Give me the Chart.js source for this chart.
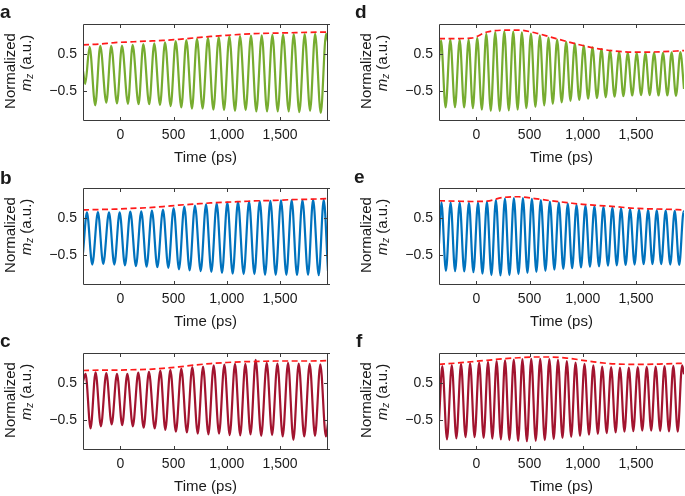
<!DOCTYPE html>
<html>
<head>
<meta charset="utf-8">
<script src="https://cdn.jsdelivr.net/npm/chart.js@4.4.0/dist/chart.umd.min.js"></script>
<style>
  body { margin: 0; width: 685px; height: 496px; background: #fff; position: relative; overflow: hidden;
         font-family: "Liberation Sans", Arial, sans-serif; color: #1a1a1a; }
  canvas { position: absolute; }
  .tag { position: absolute; font-weight: bold; font-size: 19px; line-height: 19px; }
  .ylab { position: absolute; font-size: 15px; white-space: nowrap; line-height: 16px;
          transform: translate(-50%, -50%) rotate(-90deg); }
  .ylab sub { font-size: 10px; vertical-align: -2px; font-style: italic; }
</style>
</head>
<body>
<script>
// axes
const xTicks = [0, 500, 1000, 1500];
const xTickLabels = ['0', '500', '1,000', '1,500'];
const yTicks = [-0.5, 0.5];
const yTickLabels = ['\u22120.5', '0.5'];

// envelope sample times (ps), shared by all panels
const envT = [-350, -200, -50, 100, 250, 400, 550, 700, 850, 1000, 1150, 1300, 1450, 1600, 1750, 1950];
const envA = [0.76, 0.78, 0.82, 0.84, 0.86, 0.88, 0.91, 0.95, 0.99, 1.02, 1.05, 1.07, 1.08, 1.09, 1.10, 1.11];
const envB = [0.73, 0.74, 0.75, 0.77, 0.79, 0.82, 0.86, 0.89, 0.92, 0.94, 0.96, 0.98, 0.99, 1.01, 1.02, 1.04];
const envC = [0.85, 0.86, 0.86, 0.87, 0.88, 0.91, 0.95, 1.00, 1.04, 1.07, 1.09, 1.10, 1.11, 1.11, 1.11, 1.12];
const envD = [0.93, 0.93, 0.94, 1.11, 1.16, 1.16, 1.09, 0.97, 0.85, 0.74, 0.65, 0.59, 0.56, 0.56, 0.57, 0.60];
const envE = [0.98, 0.97, 0.96, 0.97, 1.07, 1.09, 1.04, 0.98, 0.93, 0.88, 0.85, 0.82, 0.78, 0.76, 0.75, 0.73];
const envF = [1.02, 1.05, 1.09, 1.13, 1.17, 1.20, 1.22, 1.22, 1.19, 1.13, 1.07, 1.03, 1.02, 1.02, 1.03, 1.05];

// m_z turning points [time ps, value]
const mzA = [[-350, 0.04], [-329, -0.31], [-288, 0.70], [-235, -0.90], [-188, 0.73], [-131, -0.83], [-85, 0.73],
  [-31, -0.85], [16, 0.74], [72, -0.86], [116, 0.76], [172, -0.87], [216, 0.78], [272, -0.87], [319, 0.80],
  [373, -0.89], [420, 0.83], [473, -0.92], [520, 0.86], [573, -0.96], [620, 0.89], [673, -0.99], [720, 0.92],
  [773, -0.99], [823, 0.95], [874, -1.02], [924, 0.97], [974, -1.03], [1024, 0.99], [1077, -1.05], [1124, 1.00],
  [1177, -1.03], [1227, 1.01], [1277, -1.07], [1328, 1.02], [1378, -1.07], [1428, 1.03], [1478, -1.07],
  [1528, 1.04], [1581, -1.07], [1628, 1.05], [1681, -1.09], [1731, 1.05], [1782, -1.05], [1829, 1.06],
  [1882, -1.11], [1932, 1.06], [1950, 0.85]];
const mzB = [[-350, -0.45], [-313, 0.66], [-263, -0.77], [-210, 0.67], [-160, -0.75], [-106, 0.66], [-56, -0.77],
  [-6, 0.66], [44, -0.79], [94, 0.68], [147, -0.81], [197, 0.69], [247, -0.83], [297, 0.71], [348, -0.84],
  [401, 0.74], [451, -0.86], [501, 0.78], [551, -0.90], [601, 0.82], [651, -0.93], [701, 0.85], [755, -0.95],
  [805, 0.88], [855, -0.97], [905, 0.91], [955, -1.00], [1005, 0.93], [1055, -1.02], [1105, 0.95], [1158, -1.03],
  [1209, 0.96], [1259, -1.03], [1309, 0.97], [1359, -1.05], [1409, 0.98], [1459, -1.05], [1509, 0.99],
  [1559, -1.05], [1609, 1.00], [1659, -1.06], [1710, 1.00], [1763, -1.05], [1810, 1.01], [1863, -1.06],
  [1910, 1.01], [1950, -0.95]];
const mzC = [[-350, 0.55], [-326, 0.76], [-279, -0.74], [-232, 0.80], [-182, -0.68], [-131, 0.78], [-81, -0.63],
  [-31, 0.76], [18, -0.65], [66, 0.76], [118, -0.68], [169, 0.79], [219, -0.72], [269, 0.81], [323, -0.74],
  [376, 0.85], [423, -0.78], [470, 0.87], [522, -0.83], [573, 0.90], [625, -0.85], [676, 0.94], [727, -0.88],
  [777, 0.96], [827, -0.90], [877, 0.99], [927, -0.88], [977, 1.01], [1027, -0.92], [1077, 1.03], [1126, -0.93],
  [1174, 1.03], [1223, -0.90], [1271, 1.14], [1323, -0.94], [1375, 1.06], [1425, -0.92], [1475, 1.04],
  [1525, -0.96], [1575, 1.06], [1625, -1.05], [1675, 1.04], [1727, -0.96], [1778, 1.03], [1828, -0.94],
  [1878, 1.02], [1930, -0.96], [1950, -0.60]];
const mzD = [[-350, 0.30], [-331, 0.88], [-288, -0.96], [-244, 0.90], [-200, -0.95], [-156, 0.90], [-114, -0.96],
  [-72, 0.90], [-32, -0.98], [9, 0.95], [52, -1.02], [94, 1.06], [136, -1.05], [178, 1.11], [220, -1.06],
  [263, 1.13], [305, -1.04], [347, 1.12], [388, -1.02], [428, 1.10], [470, -0.98], [513, 1.07], [555, -0.94],
  [597, 1.02], [638, -0.90], [678, 0.96], [718, -0.86], [759, 0.90], [802, -0.82], [844, 0.84], [884, -0.78],
  [925, 0.79], [967, -0.75], [1009, 0.74], [1050, -0.72], [1091, 0.69], [1133, -0.70], [1175, 0.64],
  [1215, -0.68], [1256, 0.60], [1298, -0.66], [1341, 0.56], [1381, -0.65], [1422, 0.54], [1464, -0.63],
  [1506, 0.53], [1547, -0.62], [1588, 0.53], [1628, -0.62], [1669, 0.54], [1711, -0.63], [1753, 0.54],
  [1794, -0.63], [1834, 0.55], [1875, -0.64], [1916, 0.56], [1950, -0.45]];
const mzE = [[-350, -0.20], [-328, 0.94], [-285, -0.94], [-241, 0.93], [-199, -0.95], [-156, 0.93], [-113, -0.96],
  [-69, 0.92], [-27, -0.98], [16, 0.93], [58, -1.02], [100, 0.95], [142, -1.06], [184, 1.00], [227, -1.07],
  [269, 1.04], [311, -1.06], [353, 1.05], [396, -1.03], [438, 1.05], [480, -1.00], [522, 1.03], [564, -0.97],
  [606, 1.00], [649, -0.94], [691, 0.96], [733, -0.91], [775, 0.93], [817, -0.89], [859, 0.90], [900, -0.87],
  [941, 0.87], [983, -0.85], [1025, 0.85], [1067, -0.83], [1109, 0.83], [1152, -0.82], [1194, 0.81],
  [1236, -0.80], [1278, 0.79], [1319, -0.79], [1359, 0.77], [1402, -0.78], [1444, 0.75], [1486, -0.77],
  [1528, 0.74], [1571, -0.76], [1613, 0.73], [1654, -0.76], [1694, 0.72], [1736, -0.76], [1778, 0.71],
  [1821, -0.77], [1863, 0.70], [1905, -0.78], [1947, 0.69], [1950, 0.68]];
const mzF = [[-350, -0.55], [-319, 0.97], [-275, -1.04], [-230, 1.00], [-187, -1.01], [-143, 1.03], [-101, -0.98],
  [-58, 1.05], [-16, -0.98], [27, 1.07], [69, -1.00], [110, 1.09], [151, -1.02], [191, 1.11], [231, -1.04],
  [270, 1.13], [311, -1.06], [352, 1.15], [393, -1.08], [433, 1.16], [475, -1.09], [516, 1.17], [558, -1.08],
  [600, 1.17], [643, -1.06], [686, 1.16], [727, -1.03], [767, 1.14], [809, -1.00], [850, 1.11], [891, -0.97],
  [932, 1.07], [974, -0.94], [1016, 1.03], [1058, -0.91], [1099, 0.99], [1141, -0.89], [1182, 0.96],
  [1224, -0.87], [1266, 0.94], [1308, -0.85], [1349, 0.93], [1391, -0.83], [1432, 0.93], [1474, -0.81],
  [1516, 0.94], [1558, -0.80], [1600, 0.95], [1642, -0.80], [1684, 0.96], [1726, -0.81], [1767, 0.97],
  [1809, -0.82], [1850, 0.98], [1891, -0.83], [1932, 0.99], [1950, 0.75]];

const green = '#77ac30';
const blue = '#0072bd';
const wine = '#a2142f';

const panels = [
  { tag: 'a', mz: mzA, env: envA, color: green, col: 0, row: 0 },
  { tag: 'b', mz: mzB, env: envB, color: blue, col: 0, row: 1 },
  { tag: 'c', mz: mzC, env: envC, color: wine, col: 0, row: 2 },
  { tag: 'd', mz: mzD, env: envD, color: green, col: 1, row: 0 },
  { tag: 'e', mz: mzE, env: envE, color: blue, col: 1, row: 1 },
  { tag: 'f', mz: mzF, env: envF, color: wine, col: 1, row: 2 },
];

const plotLeft = [83, 439];
const plotTop = [24, 188, 353];
const tagPos = { a: [0, 2], b: [0, 168], c: [0, 331], d: [355, 2], e: [354, 167], f: [356, 331] };

// box with inward ticks; right column is cut at the page edge so no right side there
const boxPlugin = {
  id: 'box',
  afterDatasetsDraw(chart, args, opts) {
    const { ctx, chartArea: a, scales: { x, y } } = chart;
    ctx.save();
    ctx.strokeStyle = '#3a3a3a';
    ctx.lineWidth = 1;
    ctx.beginPath();
    ctx.moveTo(a.right + 2, a.top + 0.5);
    ctx.lineTo(a.left + 0.5, a.top + 0.5);
    ctx.lineTo(a.left + 0.5, a.bottom - 0.5);
    ctx.lineTo(a.right + 2, a.bottom - 0.5);
    if (opts.right) {
      ctx.moveTo(a.right - 0.5, a.top);
      ctx.lineTo(a.right - 0.5, a.bottom);
    }
    x.ticks.forEach(t => {
      const px = Math.round(x.getPixelForValue(t.value)) + 0.5;
      ctx.moveTo(px, a.bottom); ctx.lineTo(px, a.bottom - 4);
      ctx.moveTo(px, a.top); ctx.lineTo(px, a.top + 4);
    });
    y.ticks.forEach(t => {
      const py = Math.round(y.getPixelForValue(t.value)) + 0.5;
      ctx.moveTo(a.left, py); ctx.lineTo(a.left + 4, py);
      if (opts.right) { ctx.moveTo(a.right, py); ctx.lineTo(a.right - 4, py); }
    });
    ctx.stroke();
    ctx.restore();
  }
};

function addDiv(cls, html, left, top) {
  const d = document.createElement('div');
  d.className = cls;
  d.innerHTML = html;
  d.style.left = left + 'px';
  d.style.top = top + 'px';
  document.body.appendChild(d);
}

const tickFont = { family: '"Liberation Sans", Arial, sans-serif', size: 14 };

panels.forEach(p => {
  const L = plotLeft[p.col], T = plotTop[p.row];
  const cv = document.createElement('canvas');
  cv.width = 340; cv.height = 167;
  cv.style.left = (L - 83) + 'px';
  cv.style.top = (T - 24) + 'px';
  document.body.appendChild(cv);

  addDiv('tag', p.tag, tagPos[p.tag][0], tagPos[p.tag][1]);
  addDiv('ylab', 'Normalized', L - 73, T + 47);
  addDiv('ylab', '<i>m</i><sub>z</sub> (a.u.)', L - 55, T + 39);

  new Chart(cv, {
    type: 'line',
    data: {
      datasets: [
        {
          data: envT.map((t, i) => ({ x: t, y: p.env[i] })),
          borderColor: '#ff1a1a', borderWidth: 1.7, borderDash: [6, 3.5],
          pointRadius: 0, cubicInterpolationMode: 'monotone', fill: false
        },
        {
          data: p.mz.map(d => ({ x: d[0], y: d[1] })),
          borderColor: p.color, borderWidth: 2.2,
          pointRadius: 0, cubicInterpolationMode: 'monotone', fill: false
        }
      ]
    },
    options: {
      responsive: false,
      animation: false,
      devicePixelRatio: 1,
      layout: { padding: { left: 0, top: 24, right: 12, bottom: 0 } },
      plugins: { legend: { display: false }, tooltip: { enabled: false }, box: { right: p.col === 0 } },
      scales: {
        x: {
          type: 'linear', min: -350, max: 1950,
          grid: { display: false, drawTicks: false, tickLength: 0 },
          border: { display: false },
          afterBuildTicks: s => { s.ticks = xTicks.map(v => ({ value: v })); },
          afterFit: s => { s.height = 46; },
          ticks: {
            font: tickFont, color: '#1a1a1a', padding: 6, maxRotation: 0,
            callback: v => xTickLabels[xTicks.indexOf(v)]
          },
          title: {
            display: true, text: 'Time (ps)', color: '#1a1a1a', padding: 0,
            font: { family: '"Liberation Sans", Arial, sans-serif', size: 15 }
          }
        },
        y: {
          min: -1.33, max: 1.33,
          grid: { display: false, drawTicks: false, tickLength: 0 },
          border: { display: false },
          afterBuildTicks: s => { s.ticks = yTicks.map(v => ({ value: v })); },
          afterFit: s => { s.width = 83; },
          ticks: {
            font: tickFont, color: '#1a1a1a', padding: 6,
            callback: v => yTickLabels[yTicks.indexOf(v)]
          }
        }
      }
    },
    plugins: [boxPlugin]
  });
});
</script>
</body>
</html>
